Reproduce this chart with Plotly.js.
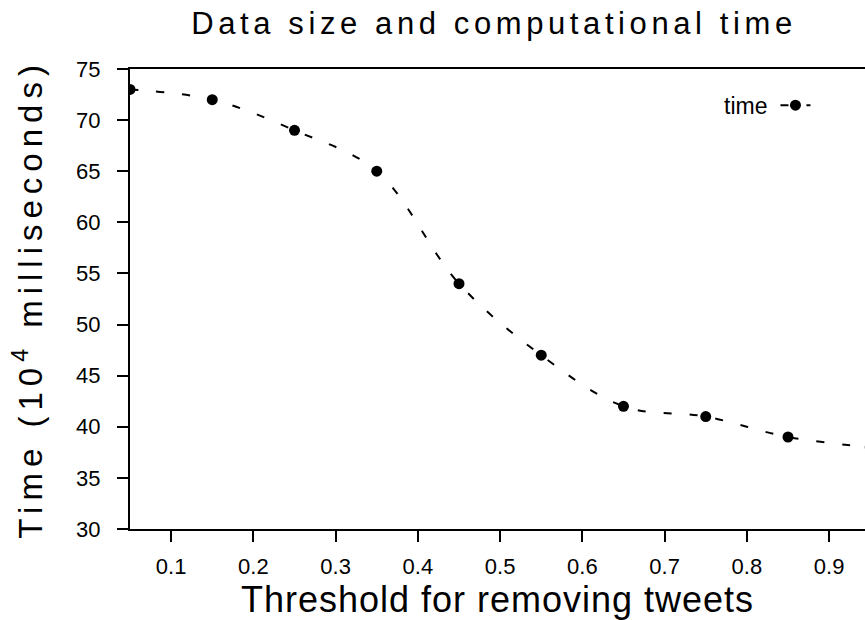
<!DOCTYPE html>
<html>
<head>
<meta charset="utf-8">
<script src="https://cdn.plot.ly/plotly-3.0.1.min.js"></script>
<style>
  html, body { margin: 0; padding: 0; background: #fff; }
  #chart { width: 865px; height: 620px; }
</style>
</head>
<body>
<div id="chart"></div>
<script>
// Data
const thresholds = [0.05, 0.15, 0.25, 0.35, 0.45, 0.55, 0.65, 0.75, 0.85, 0.95];
const times = [73, 72, 69, 65, 54, 47, 42, 41, 39, 38];
const seriesName = "time";
const xTickVals = [0.1, 0.2, 0.3, 0.4, 0.5, 0.6, 0.7, 0.8, 0.9];
const xTickText = ["0.1", "0.2", "0.3", "0.4", "0.5", "0.6", "0.7", "0.8", "0.9"];
const yTickVals = [30, 35, 40, 45, 50, 55, 60, 65, 70, 75];
const yTickText = ["30", "35", "40", "45", "50", "55", "60", "65", "70", "75"];

const regular = "'Liberation Sans', Arial, Helvetica, sans-serif";

const trace = {
  x: thresholds,
  y: times,
  type: "scatter",
  mode: "lines+markers",
  name: "",
  line: { color: "#000", width: 2, dash: "8px,18px", shape: "spline", smoothing: 1 },
  marker: { color: "#000", size: 11 },
  cliponaxis: true,
  showlegend: true
};

const layout = {
  width: 865,
  height: 620,
  margin: { l: 130, r: 0, t: 69, b: 91, pad: 0 },
  paper_bgcolor: "#fff",
  plot_bgcolor: "#fff",
  showlegend: true,
  title: {
    text: "Data size and computational time",
    font: { family: regular, size: 31, color: "#000" },
    x: 494 / 865, xanchor: "center", xref: "container",
    y: 1 - 23.5 / 620, yanchor: "middle", yref: "container"
  },
  xaxis: {
    range: [0.05, 0.05 + 735 / 822.5],
    tickvals: xTickVals,
    ticktext: xTickText,
    ticks: "outside", ticklen: 11, tickwidth: 2, tickcolor: "#000",
    ticklabelstandoff: 6,
    showline: true, linecolor: "#000", linewidth: 2, mirror: true,
    showgrid: false, zeroline: false,
    tickfont: { family: regular, size: 22, color: "#000" },
    title: { text: "Threshold for removing tweets", font: { family: regular, size: 36, color: "#000" }, standoff: 6 }
  },
  yaxis: {
    range: [30, 75],
    tickvals: yTickVals,
    ticktext: yTickText,
    ticks: "outside", ticklen: 11, tickwidth: 2, tickcolor: "#000",
    ticklabelstandoff: 12,
    showline: true, linecolor: "#000", linewidth: 2, mirror: false,
    showgrid: false, zeroline: false,
    tickfont: { family: regular, size: 22, color: "#000" },
    title: { text: "Time (10<sup>4</sup> milliseconds)", font: { family: regular, size: 33, color: "#000" }, standoff: 24 }
  },
  legend: {
    x: 1 - 44 / 735, xanchor: "right", xref: "paper",
    y: 0.968, yanchor: "top", yref: "paper",
    bgcolor: "rgba(0,0,0,0)",
    borderwidth: 0,
    font: { family: regular, size: 23, color: "#000" },
    title: { text: seriesName, side: "left", font: { family: regular, size: 23, color: "#000" } }
  }
};

Plotly.newPlot("chart", [trace], layout, { displayModeBar: false, staticPlot: true }).then(function () {
  const sp = [[".gtitle", "4.6px"], [".g-xtitle text", "1px"], [".g-ytitle text", "6px"]];
  sp.forEach(function (p) {
    document.querySelectorAll(p[0]).forEach(function (el) { el.style.letterSpacing = p[1]; });
  });
});
</script>
</body>
</html>
